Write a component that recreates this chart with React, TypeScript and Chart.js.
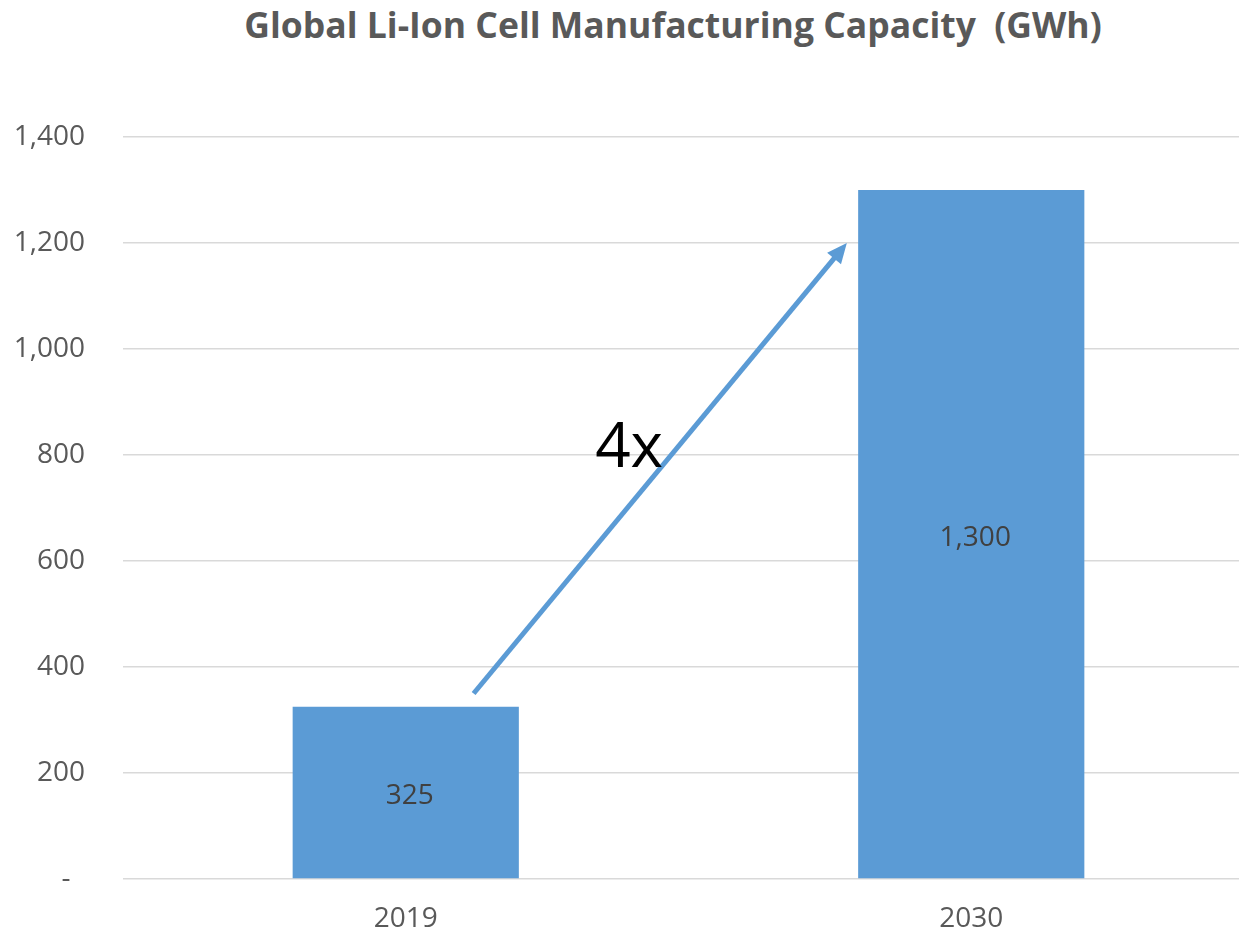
import React, { useEffect, useRef } from "react";
import { Chart, registerables } from "chart.js";

Chart.register(...registerables);

const TITLE = "Global Li-Ion Cell Manufacturing Capacity  (GWh)";
const categories = ["2019", "2030"];
const capacityValues = [325, 1300];
const yTickValues = [0, 200, 400, 600, 800, 1000, 1200, 1400];
const yTickLabels = ["-\u00A0\u00A0", "200", "400", "600", "800", "1,000", "1,200", "1,400"];

// arrow annotation: [category position, value]
const arrowStart = [0.12, 350];
const arrowEnd = [0.78, 1200];
const growthLabel = "4x";
const growthLabelPos = [0.395, 810];

const FONT = "'Open Sans', 'Noto Sans', sans-serif";
const BAR_COLOR = "#5B9BD5";
const TEXT_GRAY = "#595959";

const overlayPlugin = {
  id: "overlay",
  afterDatasetsDraw(chart: any) {
    const { ctx, scales } = chart;
    const x = scales.x;
    const y = scales.y;
    // data labels
    const meta = chart.getDatasetMeta(0);
    ctx.save();
    ctx.font = `28px ${FONT}`;
    ctx.fillStyle = "#404040";
    ctx.textAlign = "center";
    ctx.textBaseline = "middle";
    meta.data.forEach((bar: any, i: number) => {
      const v = capacityValues[i];
      const cy = (bar.y + bar.base) / 2;
      ctx.fillText(v.toLocaleString("en-US"), bar.x + 4, cy + 4);
    });
    // arrow
    const x1 = x.getPixelForValue(arrowStart[0]);
    const y1 = y.getPixelForValue(arrowStart[1]);
    const x2 = x.getPixelForValue(arrowEnd[0]);
    const y2 = y.getPixelForValue(arrowEnd[1]);
    const ang = Math.atan2(y2 - y1, x2 - x1);
    const headLen = 20;
    const headW = 9;
    ctx.strokeStyle = BAR_COLOR;
    ctx.fillStyle = BAR_COLOR;
    ctx.lineWidth = 5;
    ctx.lineCap = "butt";
    ctx.beginPath();
    ctx.moveTo(x1, y1);
    ctx.lineTo(x2 - Math.cos(ang) * (headLen - 2), y2 - Math.sin(ang) * (headLen - 2));
    ctx.stroke();
    ctx.beginPath();
    ctx.moveTo(x2, y2);
    const bx = x2 - Math.cos(ang) * headLen;
    const by = y2 - Math.sin(ang) * headLen;
    ctx.lineTo(bx + Math.sin(ang) * headW, by - Math.cos(ang) * headW);
    ctx.lineTo(bx - Math.sin(ang) * headW, by + Math.cos(ang) * headW);
    ctx.closePath();
    ctx.fill();
    // growth label
    ctx.font = `62px ${FONT}`;
    ctx.fillStyle = "#000000";
    ctx.textAlign = "center";
    ctx.textBaseline = "middle";
    ctx.fillText(
      growthLabel,
      x.getPixelForValue(growthLabelPos[0]),
      y.getPixelForValue(growthLabelPos[1])
    );
    ctx.restore();
  },
};

export default function App() {
  const ref = useRef<HTMLCanvasElement | null>(null);
  useEffect(() => {
    document.body.style.margin = "0";
    const canvas = ref.current;
    if (!canvas) return;
    const chart = new Chart(canvas, {
      type: "bar",
      data: {
        labels: categories,
        datasets: [
          {
            data: capacityValues,
            backgroundColor: BAR_COLOR,
            borderWidth: 0,
            categoryPercentage: 1,
            barPercentage: 0.4,
          },
        ],
      },
      options: {
        animation: false,
        responsive: false,
        maintainAspectRatio: false,
        layout: { padding: { top: 137, left: 0, right: 0, bottom: 0 } },
        plugins: {
          legend: { display: false },
          title: { display: false },
          tooltip: { enabled: false },
        },
        scales: {
          x: {
            grid: { display: false, drawTicks: false },
            border: { display: false },
            ticks: {
              color: TEXT_GRAY,
              font: { family: FONT, size: 28 },
              padding: 23,
            },
            afterFit(scale: any) {
              scale.height = 55;
            },
          },
          y: {
            min: 0,
            max: 1400,
            grid: { color: "#D9D9D9", lineWidth: 1.5, drawTicks: false },
            border: { display: false },
            afterBuildTicks(scale: any) {
              scale.ticks = yTickValues.map((v) => ({ value: v }));
            },
            ticks: {
              color: TEXT_GRAY,
              font: { family: FONT, size: 28 },
              padding: 38,
              callback: (v: any) => {
                const i = yTickValues.indexOf(Number(v));
                return i >= 0 ? yTickLabels[i] : "";
              },
            },
            afterFit(scale: any) {
              scale.width = 123;
            },
          },
        },
      },
      plugins: [overlayPlugin],
    });
    return () => chart.destroy();
  }, []);

  return (
    <div
      style={{
        position: "relative",
        width: 1239,
        height: 934,
        overflow: "hidden",
        background: "#ffffff",
      }}
    >
      <div
        style={{
          position: "absolute",
          top: 1,
          left: 0,
          width: 1346,
          textAlign: "center",
          fontFamily: FONT,
          fontWeight: 700,
          fontSize: 35.5,
          color: TEXT_GRAY,
          whiteSpace: "pre",
          lineHeight: "46px",
        }}
      >
        {TITLE}
      </div>
      <canvas
        ref={ref}
        width={1254}
        height={934}
        style={{ position: "absolute", top: 0, left: 0, width: 1254, height: 934 }}
      />
    </div>
  );
}
